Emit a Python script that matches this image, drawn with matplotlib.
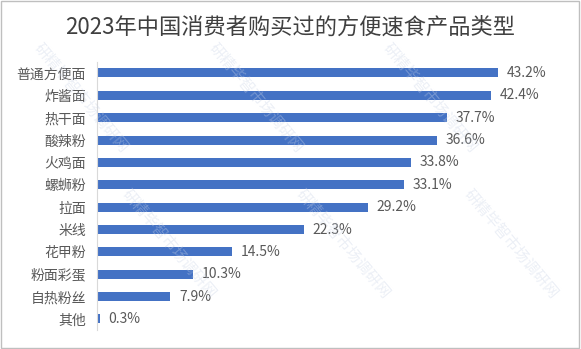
import matplotlib
matplotlib.use("Agg")
import matplotlib.pyplot as plt
from matplotlib.patches import Rectangle

plt.rcParams['font.family'] = ['Noto Sans CJK SC', 'DejaVu Sans']

categories = ['普通方便面', '炸酱面', '热干面', '酸辣粉', '火鸡面', '螺蛳粉',
              '拉面', '米线', '花甲粉', '粉面彩蛋', '自热粉丝', '其他']
values = [43.2, 42.4, 37.7, 36.6, 33.8, 33.1, 29.2, 22.3, 14.5, 10.3, 7.9, 0.3]
title = '2023年中国消费者购买过的方便速食产品类型'
watermark = '研精毕智市场调研网'

fig = plt.figure(figsize=(5.81, 3.49), dpi=100)
ax = fig.add_axes([0.167, 0.054, 0.719, 0.769])

y = list(range(len(categories)))
ax.barh(y, values, height=0.4, color='#4472C4')
for yi, v in zip(y, values):
    ax.text(v + 0.95, yi, f'{v}%', va='center', ha='left', fontsize=10,
            color='#595959')

ax.set_ylim(len(categories) - 0.5, -0.5)
ax.set_xlim(0, 45)
ax.set_yticks(y)
ax.set_yticklabels(categories, fontsize=10, color='#595959')
ax.set_xticks([])
ax.tick_params(axis='y', length=0, pad=8)
for s in ['top', 'right', 'bottom']:
    ax.spines[s].set_visible(False)
ax.spines['left'].set_color('#D9D9D9')
ax.patch.set_alpha(0)

fig.text(0.5, 0.923, title, ha='center', va='center', fontsize=16,
         color='#404040')

# faint diagonal watermark, kept inside the figure
for x0, y0 in [(0.14, 0.72), (0.44, 0.72), (0.74, 0.72),
               (0.29, 0.3), (0.59, 0.3), (0.88, 0.3)]:
    fig.text(x0, y0, watermark, rotation=-50, ha='center', va='center',
             fontsize=11, color='#C9D3E6', alpha=0.35, zorder=0)

fig.patches.append(Rectangle((0.002, 0.003), 0.995, 0.993,
                             transform=fig.transFigure, fill=False,
                             edgecolor='#BFBFBF', linewidth=1))

fig.savefig('out.png', dpi=100)
